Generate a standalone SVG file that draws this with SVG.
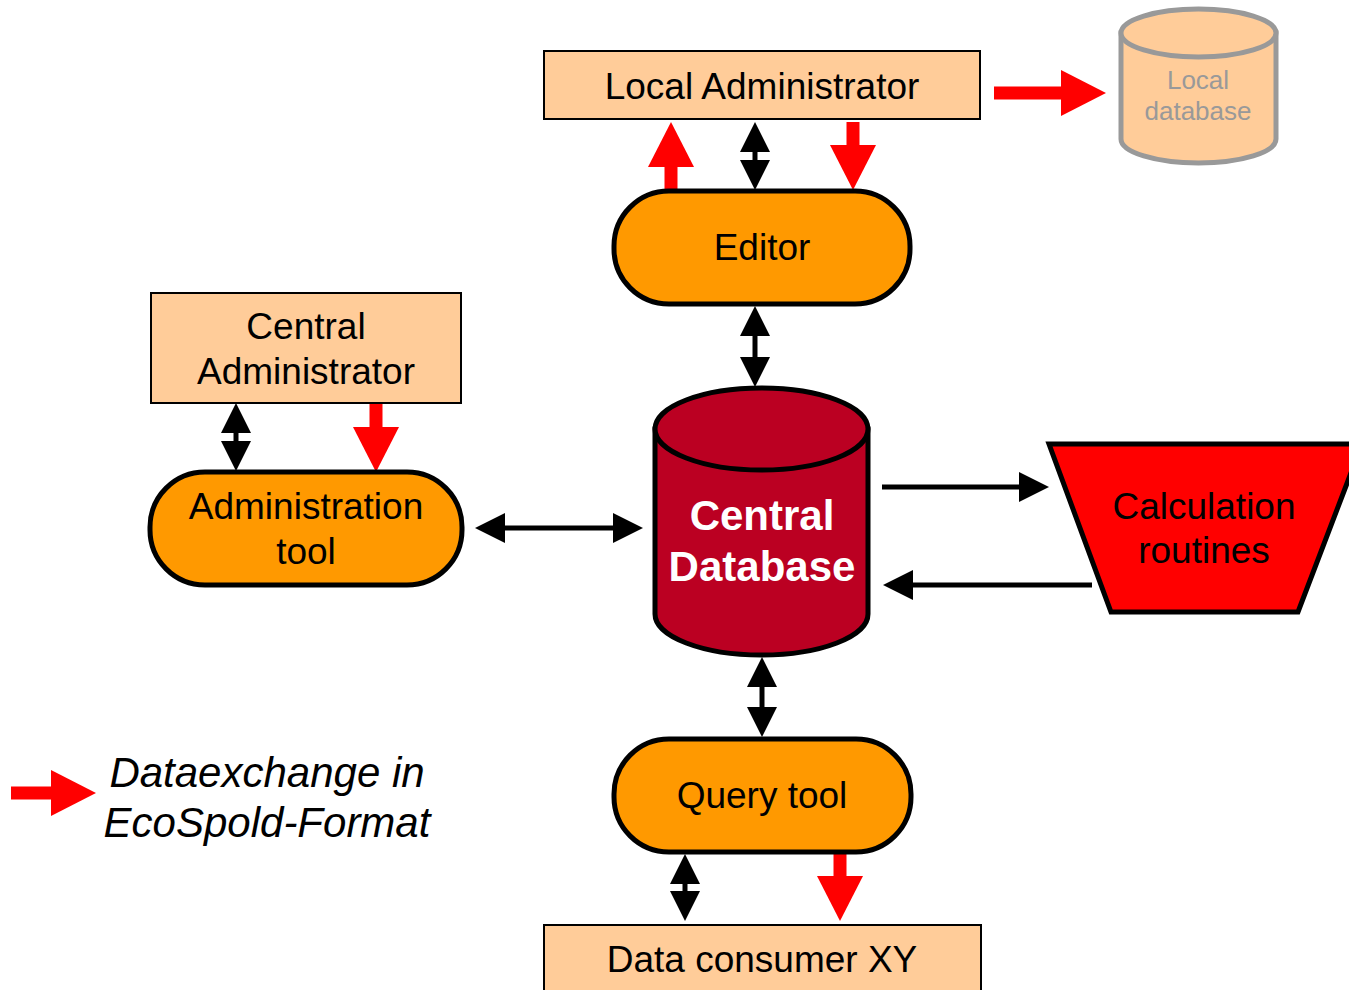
<svg xmlns="http://www.w3.org/2000/svg" width="1349" height="990" viewBox="0 0 1349 990">
<style>
.box{fill:#FFCC99;stroke:#000;stroke-width:2}
.pill{fill:#FF9900;stroke:#000;stroke-width:5}
.t{font-family:"Liberation Sans",Arial,sans-serif;font-size:37px;fill:#000;text-anchor:middle}
.blk{stroke:#000;stroke-width:5;fill:none}
.red{stroke:#FF0000;stroke-width:13;fill:none}
</style>
<defs>
<marker id="bh" viewBox="0 0 30 30" refX="2" refY="15" markerWidth="30" markerHeight="30" markerUnits="userSpaceOnUse" orient="auto-start-reverse">
<path d="M0,0 L30,15 L0,30 Z" fill="#000"/>
</marker>
<marker id="rh" viewBox="0 0 45 46" refX="2" refY="23" markerWidth="45" markerHeight="46" markerUnits="userSpaceOnUse" orient="auto">
<path d="M0,0 L45,23 L0,46 Z" fill="#FF0000"/>
</marker>
</defs>
<rect width="1349" height="990" fill="#fff"/>

<g id="connectors">
<line class="red" x1="671" y1="192" x2="671" y2="165" marker-end="url(#rh)"/>
<line class="blk" x1="755" y1="150" x2="755" y2="162" marker-start="url(#bh)" marker-end="url(#bh)"/>
<line class="red" x1="853" y1="122" x2="853" y2="147" marker-end="url(#rh)"/>
<line class="red" x1="994" y1="93" x2="1063" y2="93" marker-end="url(#rh)"/>
<line class="blk" x1="755" y1="334" x2="755" y2="359" marker-start="url(#bh)" marker-end="url(#bh)"/>
<line class="blk" x1="236" y1="431" x2="236" y2="443" marker-start="url(#bh)" marker-end="url(#bh)"/>
<line class="red" x1="376" y1="403" x2="376" y2="429" marker-end="url(#rh)"/>
<line class="blk" x1="503" y1="528" x2="615" y2="528" marker-start="url(#bh)" marker-end="url(#bh)"/>
<line class="blk" x1="882" y1="487" x2="1021" y2="487" marker-end="url(#bh)"/>
<line class="blk" x1="1092" y1="585" x2="911" y2="585" marker-end="url(#bh)"/>
<line class="blk" x1="762" y1="685" x2="762" y2="709" marker-start="url(#bh)" marker-end="url(#bh)"/>
<line class="blk" x1="685" y1="882" x2="685" y2="893" marker-start="url(#bh)" marker-end="url(#bh)"/>
<line class="red" x1="840" y1="853" x2="840" y2="878" marker-end="url(#rh)"/>
<line class="red" x1="11" y1="793" x2="53" y2="793" marker-end="url(#rh)"/>
</g>

<g id="local-administrator">
<rect class="box" x="544" y="51" width="436" height="68"/>
<text class="t" x="762" y="99">Local Administrator</text>
</g>

<g id="local-database">
<path d="M1121,33 L1121,139 A77.5,24 0 0 0 1276,139 L1276,33 Z" fill="#FFCC99" stroke="#999999" stroke-width="5"/>
<ellipse cx="1198.5" cy="33" rx="77.5" ry="24" fill="#FFCC99" stroke="#999999" stroke-width="5"/>
<text class="t" x="1198" y="89" style="font-size:26px;fill:#999999">Local</text>
<text class="t" x="1198" y="120" style="font-size:26px;fill:#999999">database</text>
</g>

<g id="editor">
<rect class="pill" x="614" y="191" width="296" height="113" rx="55"/>
<text class="t" x="762" y="260">Editor</text>
</g>

<g id="central-administrator">
<rect class="box" x="151" y="293" width="310" height="110"/>
<text class="t" x="306" y="339">Central</text>
<text class="t" x="306" y="384">Administrator</text>
</g>

<g id="administration-tool">
<rect class="pill" x="150" y="472" width="312" height="113" rx="55"/>
<text class="t" x="306" y="519">Administration</text>
<text class="t" x="306" y="564">tool</text>
</g>

<g id="central-database">
<path d="M655,429 L655,614 A106.5,41 0 0 0 868,614 L868,429 Z" fill="#BB0022" stroke="#000" stroke-width="5"/>
<ellipse cx="761.5" cy="429" rx="106.5" ry="41" fill="#BB0022" stroke="#000" stroke-width="5"/>
<text class="t" x="762" y="530" style="font-size:42px;font-weight:bold;fill:#fff">Central</text>
<text class="t" x="762" y="581" style="font-size:42px;font-weight:bold;fill:#fff">Database</text>
</g>

<g id="calculation-routines">
<polygon points="1049,444 1362,444 1298,612 1111,612" fill="#FF0000" stroke="#000" stroke-width="5"/>
<text class="t" x="1204" y="519">Calculation</text>
<text class="t" x="1204" y="563">routines</text>
</g>

<g id="query-tool">
<rect class="pill" x="614" y="739" width="297" height="113" rx="55"/>
<text class="t" x="762" y="808">Query tool</text>
</g>

<g id="data-consumer">
<rect class="box" x="544" y="925" width="437" height="70"/>
<text class="t" x="762" y="972">Data consumer XY</text>
</g>

<g id="legend">
<text class="t" x="267" y="787" style="font-size:42px;font-style:italic">Dataexchange in</text>
<text class="t" x="267" y="837" style="font-size:42px;font-style:italic">EcoSpold-Format</text>
</g>
</svg>
